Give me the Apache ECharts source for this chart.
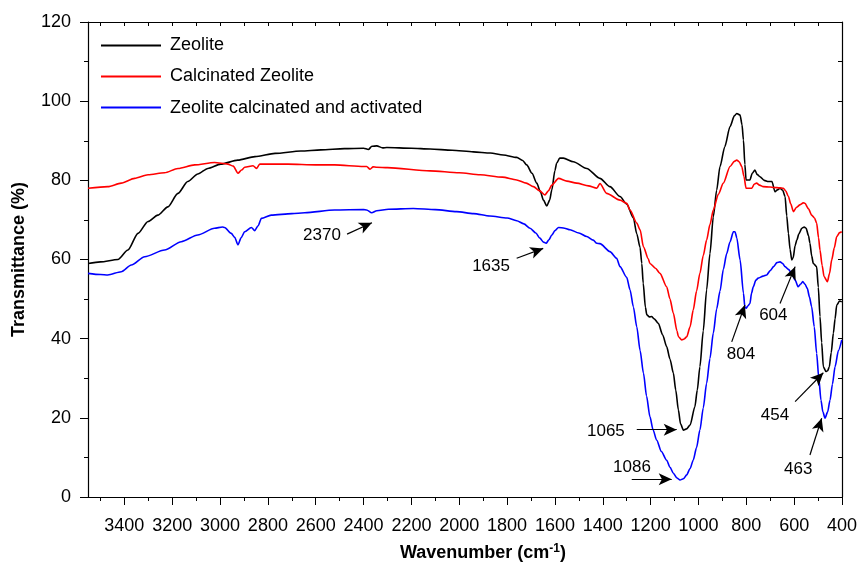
<!DOCTYPE html>
<html>
<head>
    <title>FTIR zeolite</title>
    <script src="https://cdn.jsdelivr.net/npm/echarts@6/dist/echarts.min.js"></script>
</head>
<body style="margin:0">

<div id="ftir" style="width: 859px;height:565px;"></div>

<script type="text/javascript">
    // [wavenumber, transmittance]
    var zeolite = [[3552,59.0],[3500,59.4],[3427,60.0],[3385,62.4],[3343,66.6],[3301,69.6],[3260,71.2],[3218,73.3],[3176,76.7],[3135,79.7],[3093,81.6],[3051,83.0],[2997,84.1],[2926,85.1],[2854,86.0],[2770,86.8],[2662,87.4],[2578,87.7],[2480,88.0],[2400,88.1],[2380,87.8],[2365,88.6],[2345,88.7],[2320,88.2],[2303,88.3],[2200,88.1],[2122,87.9],[2030,87.6],[1941,87.2],[1870,86.9],[1816,86.4],[1760,85.8],[1735,85.0],[1718,83.9],[1696,81.8],[1676,79.3],[1660,77.0],[1648,75.0],[1634,73.5],[1622,75.0],[1613,77.6],[1600,82.5],[1593,84.3],[1580,85.6],[1565,85.6],[1523,84.7],[1467,83.0],[1412,80.5],[1370,78.4],[1328,75.9],[1300,74.0],[1272,70.5],[1258,66.5],[1244,63.0],[1237,59.0],[1231,54.0],[1222,48.0],[1216,46.0],[1205,45.5],[1196,45.6],[1185,45.0],[1168,43.9],[1150,41.0],[1133,38.0],[1119,34.8],[1105,31.3],[1095,27.0],[1084,22.0],[1075,18.5],[1063,16.9],[1050,17.2],[1035,18.2],[1015,22.8],[1005,27.0],[994,32.9],[980,42.0],[966,52.3],[952,61.5],[938,70.8],[924,77.5],[910,83.5],[890,88.5],[868,93.6],[850,96.3],[840,96.9],[826,96.5],[818,94.0],[812,90.2],[806,84.0],[801,80.1],[793,80.1],[785,80.1],[775,81.8],[764,82.6],[755,81.5],[743,80.9],[725,80.0],[708,79.7],[693,79.7],[680,77.1],[670,77.6],[659,78.0],[648,77.5],[638,75.9],[631,71.0],[624,66.6],[617,62.5],[610,59.9],[604,60.5],[596,63.5],[589,64.9],[580,66.5],[568,67.9],[558,68.2],[550,67.9],[540,66.0],[534,64.1],[527,61.0],[520,59.0],[506,58.2],[499,53.0],[492,45.6],[485,39.0],[478,32.9],[467,31.7],[460,31.9],[453,32.9],[445,36.5],[436,41.4],[429,45.0],[422,48.5],[410,49.5],[401,49.3]];

    var calcinated = [[3552,78.0],[3469,78.4],[3413,79.3],[3357,80.5],[3301,81.4],[3232,81.9],[3176,83.0],[3106,83.9],[3023,84.5],[2967,84.1],[2945,83.6],[2925,81.8],[2910,82.6],[2897,83.3],[2862,83.7],[2848,83.0],[2834,84.1],[2716,84.1],[2600,83.9],[2521,83.9],[2400,83.5],[2387,83.5],[2373,82.8],[2360,83.4],[2345,83.3],[2300,83.2],[2122,82.4],[2000,81.9],[1913,81.4],[1820,80.8],[1760,80.1],[1720,79.3],[1690,78.4],[1665,77.4],[1642,76.3],[1628,77.3],[1613,78.8],[1585,80.5],[1550,79.8],[1509,79.3],[1460,78.6],[1425,78.0],[1412,79.2],[1384,76.7],[1328,75.0],[1300,74.2],[1286,72.5],[1258,69.2],[1244,67.5],[1230,63.2],[1210,60.2],[1203,59.0],[1180,57.8],[1161,56.5],[1133,53.1],[1119,50.0],[1105,46.4],[1090,42.0],[1084,40.5],[1070,39.7],[1060,39.9],[1049,40.5],[1035,43.0],[1022,47.2],[1008,52.0],[994,56.5],[980,61.0],[966,64.9],[952,68.8],[938,72.5],[917,76.5],[896,79.3],[868,83.5],[850,84.8],[840,85.1],[830,84.7],[819,83.5],[810,81.0],[801,78.0],[790,78.0],[777,78.0],[767,79.0],[757,79.3],[745,78.8],[729,78.4],[700,78.3],[686,78.2],[660,78.1],[645,78.0],[635,77.3],[624,75.9],[614,74.0],[603,72.1],[590,73.2],[576,73.8],[562,74.3],[555,74.2],[540,72.8],[527,71.2],[515,70.5],[506,69.2],[498,65.5],[492,62.4],[483,58.5],[475,55.7],[461,54.4],[452,56.5],[443,59.9],[432,63.0],[422,65.8],[410,66.8],[401,67.0]];

    var activated = [[3552,56.5],[3500,56.2],[3469,56.1],[3413,56.9],[3371,58.6],[3315,60.7],[3232,62.4],[3162,64.5],[3093,66.2],[3023,67.9],[2990,68.2],[2981,68.1],[2953,66.6],[2939,65.6],[2925,63.7],[2912,65.5],[2897,67.0],[2869,68.1],[2855,67.3],[2841,68.5],[2827,70.4],[2786,71.2],[2700,71.6],[2646,71.8],[2521,72.5],[2400,72.6],[2387,72.5],[2366,71.8],[2345,72.3],[2296,72.7],[2192,72.9],[2100,72.6],[2011,72.1],[1940,71.6],[1872,71.0],[1800,70.5],[1760,69.8],[1730,69.0],[1704,67.9],[1680,66.7],[1663,65.4],[1648,64.4],[1637,64.1],[1625,65.0],[1613,66.2],[1600,67.3],[1585,68.1],[1560,67.9],[1537,67.5],[1500,66.7],[1467,65.8],[1440,64.9],[1425,64.1],[1412,64.0],[1370,62.0],[1342,60.3],[1328,58.2],[1300,55.5],[1286,52.3],[1272,48.0],[1258,43.0],[1244,37.0],[1230,31.3],[1217,25.5],[1203,20.3],[1190,17.0],[1175,14.4],[1155,11.5],[1133,9.3],[1119,7.5],[1105,6.0],[1090,4.8],[1077,4.3],[1063,4.6],[1049,5.6],[1035,7.2],[1022,9.3],[1008,12.5],[994,16.9],[980,22.5],[966,28.7],[952,35.0],[938,41.4],[924,47.5],[910,52.0],[896,57.5],[882,61.5],[868,64.5],[854,67.0],[847,67.0],[840,65.5],[826,59.9],[812,51.5],[806,48.0],[801,47.7],[793,48.3],[785,48.9],[778,51.5],[771,53.1],[760,54.8],[750,55.3],[730,55.8],[715,56.1],[700,57.2],[686,58.2],[672,59.2],[659,59.4],[648,59.0],[638,58.2],[624,57.5],[610,56.5],[596,54.8],[583,53.1],[573,53.8],[564,54.4],[555,53.8],[545,52.7],[536,50.5],[527,48.1],[516,43.0],[506,36.3],[497,30.0],[488,24.5],[480,21.5],[471,19.9],[460,21.5],[450,24.5],[440,28.5],[429,32.9],[415,37.0],[401,39.7]];

    var seriesNames = ['Zeolite', 'Calcinated Zeolite', 'Zeolite calcinated and activated'];
    var seriesColors = ['#000000', '#ff0000', '#0000ff'];

    // peak annotations: label, text position, arrow tail, arrow head (data coords)
    var peakLabels = ['2370', '1635', '1065', '1086', '804', '604', '454', '463'];
    var peakText = [[2574,66.2],[1867,58.4],[1387,16.7],[1278,7.6],[822,36.1],[687,46.0],[680,20.7],[583,7.0]];
    var arrowTail = [[2469,66.4],[1760,60.3],[1258,17.0],[1279,4.5],[861,39.2],[659,48.9],[596,24.1],[534,10.6]];
    var arrowHead = [[2365,69.3],[1649,62.8],[1091,17.0],[1112,4.5],[806,48.5],[596,58.2],[478,31.4],[485,19.9]];

    var majorTicks = [], minorTicks = [], allTicks = [];
    for (var w = 400; w <= 3500; w += 100) {
        allTicks.push(w);
        if (w % 200 == 0) majorTicks.push(w); else minorTicks.push(w);
    }

    var font = 'Liberation Sans, Arial, sans-serif';
    var xMin = 400, xMax = 3552;

    var chart = echarts.init(document.getElementById('ftir'));

    var series = [zeolite, calcinated, activated].map(function (d, i) {
        return {
            name: seriesNames[i],
            type: 'line',
            data: d,
            symbol: 'none',
            smooth: 0.25,
            smoothMonotone: 'x',
            lineStyle: {color: seriesColors[i], width: 1.6},
            itemStyle: {color: seriesColors[i]}
        };
    });

    series.push({
        type: 'scatter',
        data: [],
        silent: true,
        markLine: {
            silent: true,
            symbol: ['none', 'arrow'],
            symbolSize: [9, 13],
            label: {show: false},
            lineStyle: {color: '#000', width: 1.2, type: 'solid'},
            data: arrowTail.map(function (t, i) {
                return [{coord: t}, {coord: arrowHead[i]}];
            })
        },
        markPoint: {
            silent: true,
            symbol: 'rect',
            symbolSize: 1,
            itemStyle: {color: 'transparent'},
            label: {show: true, position: 'inside', color: '#000', fontSize: 17, fontFamily: font,
                formatter: function (p) { return p.name; }},
            data: peakText.map(function (c, i) {
                return {name: peakLabels[i], coord: c};
            })
        }
    });

    chart.setOption({
        animation: false,
        textStyle: {fontFamily: font},
        grid: {left: 88, right: 17, top: 22, bottom: 68, containLabel: false, outerBoundsMode: 'none'},
        legend: {
            data: seriesNames,
            orient: 'vertical',
            left: 96,
            top: 25,
            icon: 'rect',
            itemWidth: 60,
            itemHeight: 2,
            itemGap: 0,
            textStyle: {fontSize: 18, color: '#000', lineHeight: 18, padding: [0, 0, 0, 4]}
        },
        xAxis: [{
            type: 'value',
            min: xMin,
            max: xMax,
            inverse: true,
            position: 'bottom',
            splitLine: {show: false},
            axisLine: {lineStyle: {color: '#000', width: 1.2}},
            axisTick: {show: true, length: 8, customValues: majorTicks, lineStyle: {color: '#000'}},
            axisLabel: {customValues: majorTicks, fontSize: 18, color: '#000', margin: 14,
                formatter: function (v) { return String(v); }},
            name: 'Wavenumber (cm{sup|-1})',
            nameLocation: 'middle',
            nameGap: 41,
            nameMoveOverlap: false,
            nameTextStyle: {fontSize: 18, fontWeight: 'bold', color: '#000', padding: [0, 0, 0, 36],
                rich: {sup: {fontSize: 12, fontWeight: 'bold', verticalAlign: 'top', padding: [0, 0, 8, 0]}}}
        }, {
            type: 'value',
            min: xMin,
            max: xMax,
            inverse: true,
            position: 'bottom',
            splitLine: {show: false},
            axisLine: {show: false},
            axisTick: {show: true, length: 4, customValues: minorTicks, lineStyle: {color: '#000'}},
            axisLabel: {show: false}
        }, {
            type: 'value',
            min: xMin,
            max: xMax,
            inverse: true,
            position: 'top',
            splitLine: {show: false},
            axisLine: {lineStyle: {color: '#000', width: 1.2}},
            axisTick: {show: true, inside: true, length: 4, customValues: allTicks, lineStyle: {color: '#000'}},
            axisLabel: {show: false}
        }],
        yAxis: [{
            type: 'value',
            min: 0,
            max: 120,
            interval: 20,
            position: 'left',
            splitLine: {show: false},
            axisLine: {show: true, lineStyle: {color: '#000', width: 1.2}},
            axisTick: {show: true, length: 8, lineStyle: {color: '#000'}},
            minorTick: {show: true, splitNumber: 2, length: 4, lineStyle: {color: '#000'}},
            axisLabel: {fontSize: 18, color: '#000', margin: 17},
            name: 'Transmittance (%)',
            nameLocation: 'middle',
            nameGap: 53,
            nameMoveOverlap: false,
            nameTextStyle: {fontSize: 18, fontWeight: 'bold', color: '#000'}
        }, {
            type: 'value',
            min: 0,
            max: 120,
            interval: 10,
            position: 'right',
            splitLine: {show: false},
            axisLine: {show: true, lineStyle: {color: '#000', width: 1.2}},
            axisTick: {show: true, inside: true, length: 4, lineStyle: {color: '#000'}},
            axisLabel: {show: false}
        }],
        series: series
    });
</script>
</body>
</html>
